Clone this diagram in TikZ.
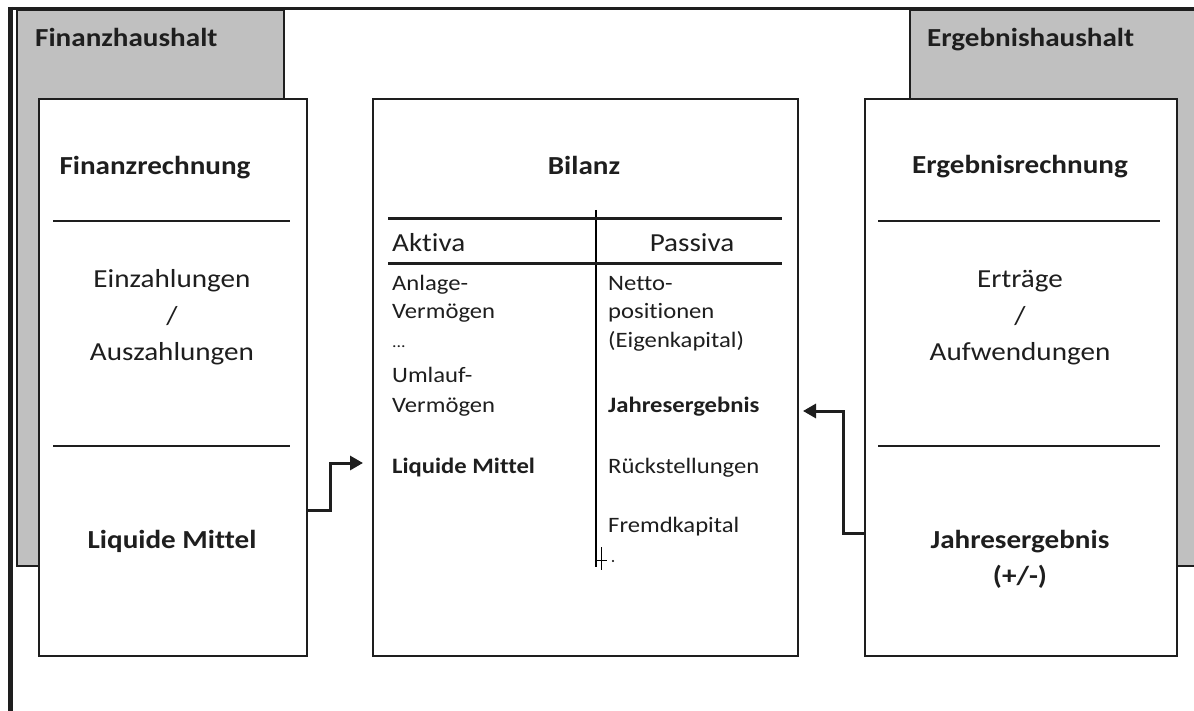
\documentclass[tikz,border=0pt]{standalone}
\usepackage{fontspec}
\setmainfont[FakeStretch=1.12,Ligatures={NoCommon}]{Carlito}
\usetikzlibrary{arrows.meta}
\definecolor{hh}{HTML}{C0C0C0}
\definecolor{ink}{HTML}{1E1E1E}
\definecolor{thin}{HTML}{6E6E6E}
\begin{document}
\begin{tikzpicture}[x=1pt,y=-1pt,
  box/.style={draw=ink,line width=2pt,fill=white,inner sep=0pt,anchor=north west},
  hhbox/.style={draw=ink,line width=2pt,fill=hh,inner sep=0pt,anchor=north west},
  big/.style={font=\fontsize{26}{30}\selectfont,text=ink,inner sep=0pt,anchor=base},
  bigb/.style={big,font=\fontsize{26}{30}\selectfont\bfseries},
  small/.style={font=\fontsize{22}{26}\selectfont,text=ink,inner sep=0pt,anchor=base west},
  smallb/.style={small,font=\fontsize{22}{26}\selectfont\bfseries},
  rule/.style={draw=ink,line width=2pt},
  conn/.style={draw=ink,line width=3pt,-{Triangle[length=13pt,width=14pt]}},
]
\useasboundingbox[fill=white] (0,0) rectangle (1194,711);
% outer frame
\draw[ink,line width=3pt] (8,8.5) -- (1194,8.5);
\draw[ink,line width=5pt] (10,7) -- (10,711);
% gray households
\node[hhbox,minimum width=267pt,minimum height=556pt] (fh) at (16,9) {};
\node[hhbox,minimum width=310pt,minimum height=556pt] (eh) at (909,9) {};
\node[bigb,anchor=base west] (fhT) at (35,47) {Finanzhaushalt};
\node[bigb,anchor=base west] (ehT) at (927,47) {Ergebnishaushalt};
% boxes
\node[box,minimum width=268pt,minimum height=557pt] (fr) at (38,98) {};
\node[box,minimum width=425pt,minimum height=557pt] (bil) at (372,98) {};
\node[box,minimum width=312pt,minimum height=557pt] (er) at (864,98) {};
% Finanzrechnung
\node[bigb] (frT) at (155,175) {Finanzrechnung};
\draw[rule] (53,221) -- (290,221);
\node[big] (fr1) at (172,288) {Einzahlungen};
\node[big] (fr2) at (172,324) {/};
\node[big] (fr3) at (172,360) {Auszahlungen};
\draw[rule] (53,446) -- (290,446);
\node[bigb] (frL) at (172,548) {Liquide Mittel};
% Ergebnisrechnung
\node[bigb] (erT) at (1020,174) {Ergebnisrechnung};
\draw[rule] (878,221) -- (1160,221);
\node[big] (er1) at (1020,288) {Erträge};
\node[big] (er2) at (1020,324) {/};
\node[big] (er3) at (1020,360) {Aufwendungen};
\draw[rule] (878,446) -- (1160,446);
\node[bigb] (erJ) at (1020,548) {Jahresergebnis};
\node[bigb] (erP) at (1020,584) {(+/-)};
% Bilanz
\node[bigb] (bilT) at (584,175) {Bilanz};
\draw[thin,line width=1.3pt] (596,210) -- (596,567);
\draw[rule,line width=3pt] (388,219) -- (782,219);
\draw[rule,line width=3pt] (388,264) -- (782,264);
\node[big,anchor=base west] (akt) at (392,252) {Aktiva};
\node[big] (pas) at (692,252) {Passiva};
\node[small] (a1) at (392,291) {Anlage-};
\node[small] (a2) at (392,319) {Vermögen};
\node[small,font=\fontsize{16}{20}\selectfont] (a3) at (392,348) {...};
\node[small] (a4) at (392,382) {Umlauf-};
\node[small] (a5) at (392,412) {Vermögen};
\node[smallb] (a6) at (392,473) {Liquide Mittel};
\node[small] (p1) at (608,291) {Netto-};
\node[small] (p2) at (608,319) {positionen};
\node[small] (p3) at (608,348) {(Eigenkapital)};
\node[smallb] (p4) at (608,412) {Jahresergebnis};
\node[small] (p5) at (608,473) {Rückstellungen};
\node[small] (p6) at (608,532) {Fremdkapital};
% cursor artifact
\draw[thin,line width=1pt] (601,547) -- (601,570) (597,560) -- (607,560);
\fill[thin] (613,561) circle (1.2pt);
% connectors
\coordinate (c1) at (0,510);
\coordinate (c2) at (330,463);
\coordinate (c3) at (0,533);
\coordinate (c4) at (843,411);
\draw[conn,shorten >=9pt] (fr.east |- c1) -| (c2) -- (bil.west |- c2);
\draw[conn,shorten >=4pt] (er.west |- c3) -| (c4) -- (bil.east |- c4);
\end{tikzpicture}
\end{document}
